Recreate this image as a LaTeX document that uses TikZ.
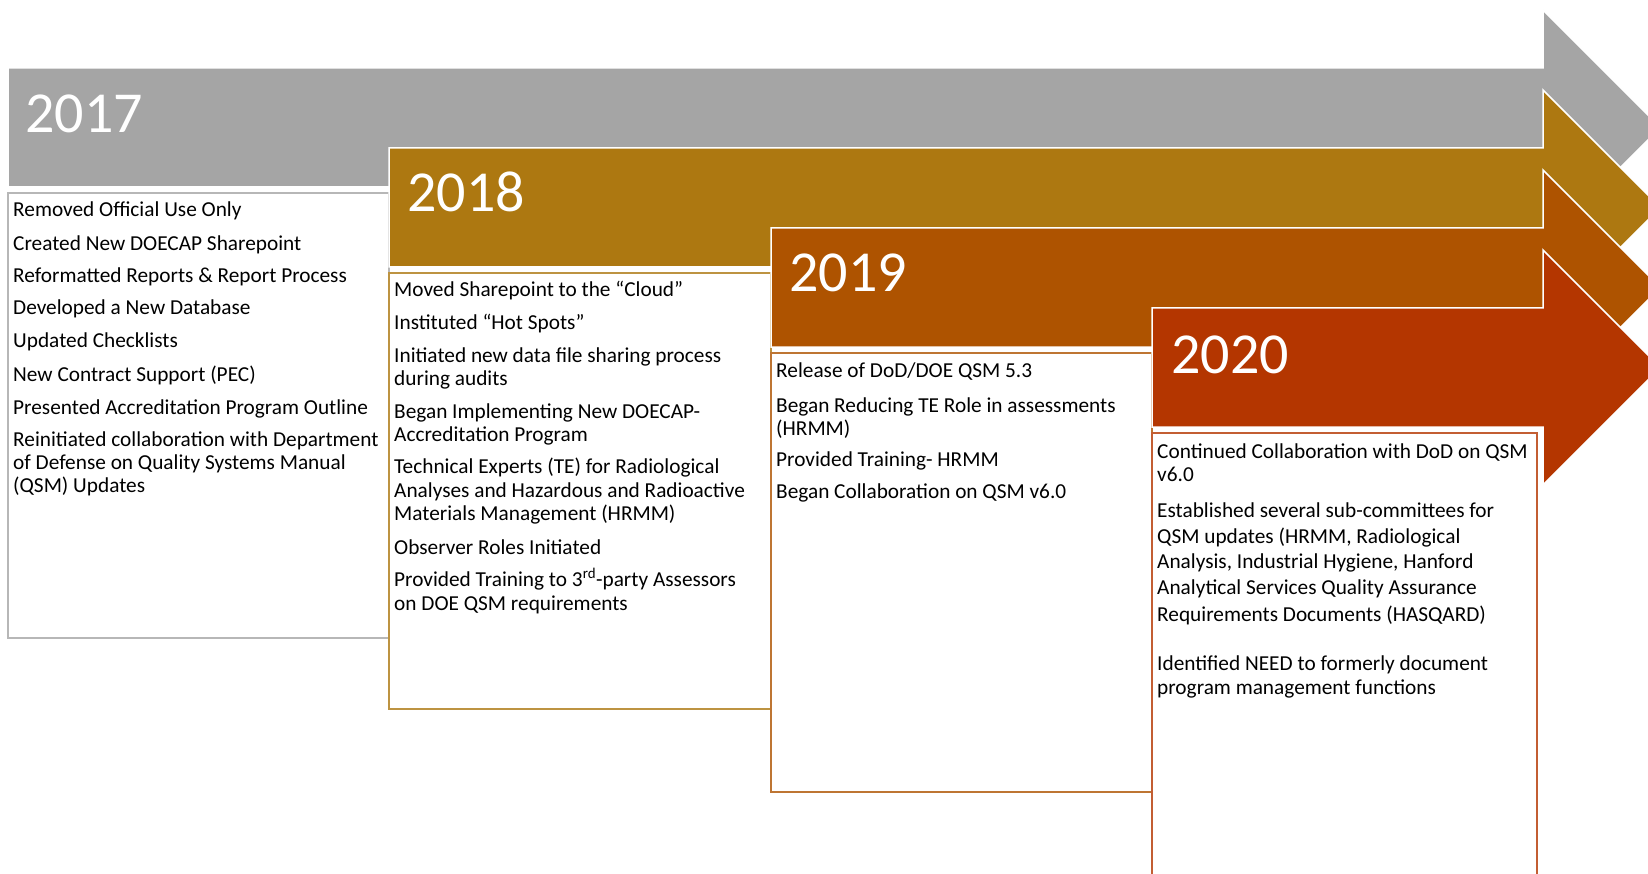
\documentclass[tikz,border=0pt]{standalone}
\usepackage{fontspec}
\setmainfont{Carlito}
\definecolor{c17}{HTML}{A5A5A5}
\definecolor{c18}{HTML}{AD7811}
\definecolor{c19}{HTML}{AE5300}
\definecolor{c20}{HTML}{B43600}
\tikzset{
  yearlabel/.style={anchor=base west, inner sep=0pt, text=white, font=\fontsize{58}{60}\selectfont},
  item/.style={anchor=base west, inner sep=0pt, font=\fontsize{21.3}{23}\selectfont},
}

\begin{document}
\begin{tikzpicture}[x=1pt,y=-1pt]
  \useasboundingbox (0,0) rectangle (1648,874);
  \clip (0,0) rectangle (1648,874);
  % arrows and boxes, back to front
  \foreach \t/\col/\l/\r/\b in {68/c17/8/389/638, 148/c18/389/771/709, 228/c19/771/1152/792, 308/c20/1152/1537/900}{
    \filldraw[fill=\col, draw=white, line width=1.5pt] (\l,\t) -- (1543,\t) -- (1543,\t-58) -- (1660.5,\t+59.5)
      -- (1543,\t+177) -- (1543,\t+119) -- (\l,\t+119) -- cycle;
    \draw[\col!80!white, line width=2pt] (\l,\t+125) rectangle (\r,\b);
  }
  \node[yearlabel] (y17) at (25,133) {2017};
  \node[yearlabel] (y18) at (407,212) {2018};
  \node[yearlabel] (y19) at (789,292) {2019};
  \node[yearlabel] (y20) at (1171,373) {2020};
  % 2017
  \foreach \y/\txt [count=\i] in {217/{Removed Official Use Only}, 251/{Created New DOECAP Sharepoint},
      283/{Reformatted Reports \& Report Process}, 315/{Developed a New Database}, 347/{Updated Checklists},
      381/{New Contract Support (PEC)}, 414/{Presented Accreditation Program Outline},
      446/{Reinitiated collaboration with Department}, 469/{of Defense on Quality Systems Manual},
      492/{(QSM) Updates}}
    \node[item] (a\i) at (13,\y) {\txt};
  % 2018
  \foreach \y/\txt [count=\i] in {297/{Moved Sharepoint to the “Cloud”}, 330/{Instituted “Hot Spots”},
      362/{Initiated new data file sharing process}, 385/{during audits},
      418/{Began Implementing New DOECAP-}, 441/{Accreditation Program},
      473/{Technical Experts (TE) for Radiological}, 497/{Analyses and Hazardous and Radioactive},
      520/{Materials Management (HRMM)}, 554/{Observer Roles Initiated},
      586/{Provided Training to 3\textsuperscript{rd}-party Assessors}, 610/{on DOE QSM requirements}}
    \node[item] (b\i) at (394,\y) {\txt};
  % 2019
  \foreach \y/\txt [count=\i] in {377/{Release of DoD/DOE QSM 5.3}, 412/{Began Reducing TE Role in assessments},
      435/{(HRMM)}, 466/{Provided Training- HRMM}, 498/{Began Collaboration on QSM v6.0}}
    \node[item] (c\i) at (776,\y) {\txt};
  % 2020
  \foreach \y/\txt [count=\i] in {458/{Continued Collaboration with DoD on QSM}, 481/{v6.0},
      517/{Established several sub-committees for}, 543/{QSM updates (HRMM, Radiological},
      568/{Analysis, Industrial Hygiene, Hanford}, 594/{Analytical Services Quality Assurance},
      621/{Requirements Documents (HASQARD)}, 670/{Identified NEED to formerly document},
      694/{program management functions}}
    \node[item] (d\i) at (1157,\y) {\txt};
\end{tikzpicture}
\end{document}
